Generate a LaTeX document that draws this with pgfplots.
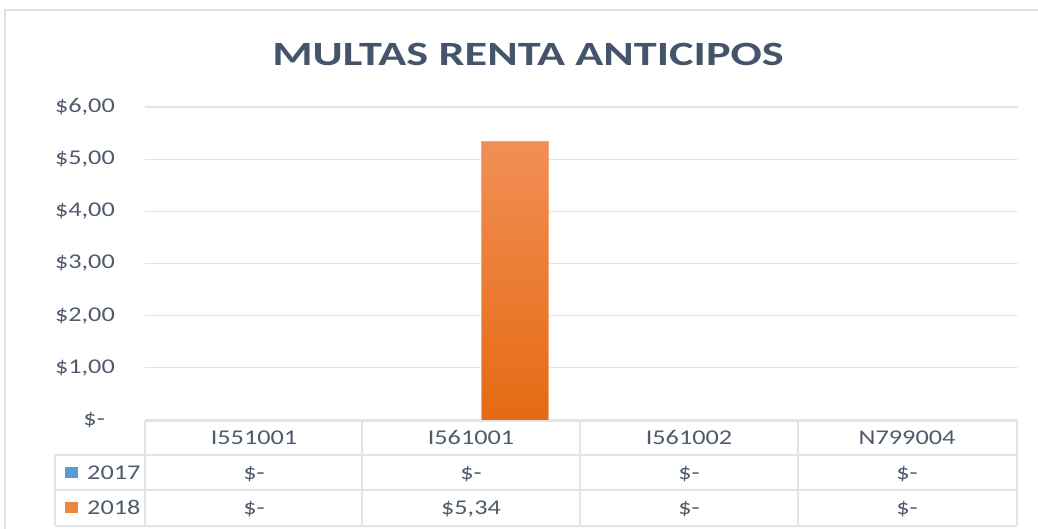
\documentclass[border=0pt]{standalone}
\usepackage{pgfplots}
\pgfplotsset{compat=1.18}
\usepackage{fontspec}
\setmainfont{Carlito}[FakeStretch=1.25]
\newfontfamily\titlefont{Carlito}[FakeStretch=1.36]
\definecolor{titlec}{HTML}{44546A}
\definecolor{textc}{HTML}{4F5B6D}
\definecolor{gridc}{HTML}{E1E4E9}
\definecolor{bordc}{HTML}{DCE0E7}
\definecolor{c2017}{HTML}{5B9BD5}
\definecolor{c2018top}{HTML}{F28F55}
\definecolor{c2018bot}{HTML}{E46A12}
\definecolor{c2018line}{HTML}{F5A77A}
\begin{document}
\begin{tikzpicture}[x=1pt,y=1pt]
\path[use as bounding box] (0pt,0pt) rectangle (1038pt,529pt);
\draw[bordc, line width=2pt] (5pt,0pt) -- (5pt,519pt) -- (1038pt,519pt);
\node[anchor=base, text=titlec, font=\titlefont\bfseries\fontsize{34}{38}\selectfont] at (528pt,463pt) {MULTAS RENTA ANTICIPOS};
\begin{axis}[
  at={(145pt,109pt)}, anchor=south west,
  width=873pt, height=313pt, scale only axis,
  xmin=-0.5, xmax=3.5, ymin=0, ymax=6,
  axis line style={draw=none},
  xtick=\empty,
  ytick={0,1,2,3,4,5,6},
  yticklabels={{\$-\rule{10pt}{0pt}},{\$1,00},{\$2,00},{\$3,00},{\$4,00},{\$5,00},{\$6,00}},
  yticklabel style={text=textc, font=\fontsize{21}{24}\selectfont, inner sep=0pt, xshift=-30pt},
  major tick length=0pt,
  ymajorgrids, grid style={gridc, line width=1.2pt},
  clip=false,
]
\addplot[ybar, bar width=67pt, bar shift=-42.5pt, fill=c2017, draw=none,
  y filter/.expression={y==0 ? nan : y}, unbounded coords=discard]
  coordinates {(0,0) (1,0) (2,0) (3,0)};
\addplot[ybar, bar width=67pt, bar shift=42.5pt, draw=c2018line, line width=0.8pt,
  top color=c2018top, bottom color=c2018bot,
  y filter/.expression={y==0 ? nan : y}, unbounded coords=discard]
  coordinates {(0,0) (1,5.34) (2,0) (3,0)};
\end{axis}
% data table
\begin{scope}[gridc, line width=1.2pt]
\draw (145pt,108pt) -- (1017pt,108pt);
\draw (55pt,74pt) -- (1017pt,74pt);
\draw (55pt,39pt) -- (1017pt,39pt);
\draw (55pt,3pt) -- (1017pt,3pt);
\draw (55pt,74pt) -- (55pt,3pt);
\foreach \xx in {145,362,580,798,1017} \draw (\xx pt,108pt) -- (\xx pt,3pt);
\end{scope}
\fill[c2017] (65pt,51pt) rectangle (78pt,62pt);
\fill[c2018bot!80!white] (65pt,16pt) rectangle (78pt,27pt);
\begin{scope}[every node/.style={text=textc, font=\fontsize{21}{24}\selectfont, anchor=base, inner sep=0pt}]
\node[anchor=base west] at (87pt,49pt) {2017};
\node[anchor=base west] at (87pt,14pt) {2018};
\node at (254pt,84pt) {I551001};
\node at (471pt,84pt) {I561001};
\node at (689pt,84pt) {I561002};
\node at (907pt,84pt) {N799004};
\node at (254pt,49pt) {\$-};
\node at (471pt,49pt) {\$-};
\node at (689pt,49pt) {\$-};
\node at (907pt,49pt) {\$-};
\node at (254pt,14pt) {\$-};
\node at (471pt,14pt) {\$5,34};
\node at (689pt,14pt) {\$-};
\node at (907pt,14pt) {\$-};
\end{scope}
\end{tikzpicture}
\end{document}
